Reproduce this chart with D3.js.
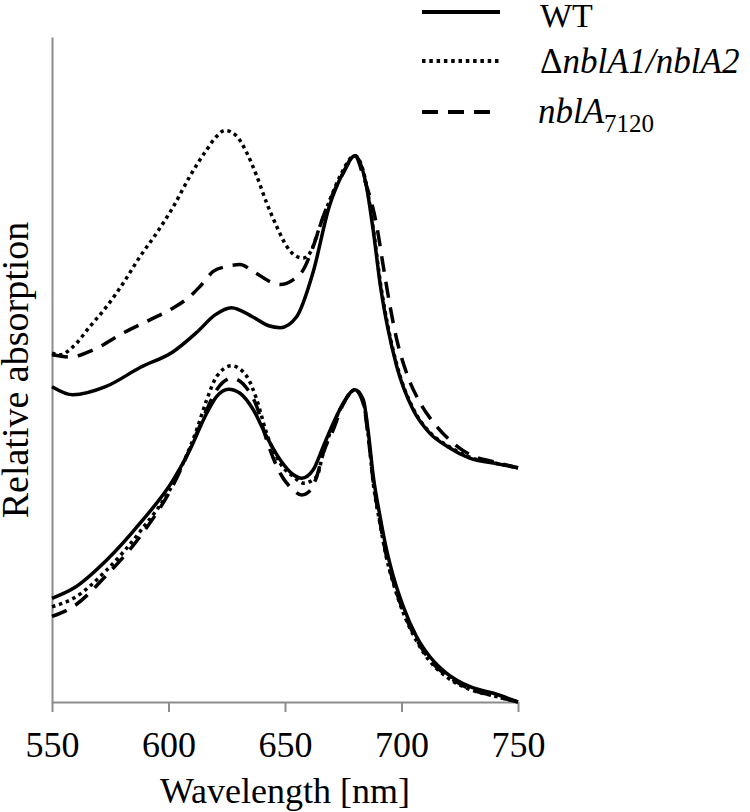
<!DOCTYPE html>
<html>
<head>
<meta charset="utf-8">
<script src="https://cdn.jsdelivr.net/npm/d3@7"></script>
</head>
<body style="margin:0">
<script>
// spectra normalised to the 680 nm peak; the upper set is shifted up by upperOffset
var upperOffset = 0.75;

var upperWT = [[550,0.26],[559,0.234],[573,0.26],[588,0.322],[602,0.372],[612,0.433],[620,0.49],[627,0.513],[636,0.484],[643,0.455],[648,0.449],[655,0.484],[662,0.625],[669,0.837],[675,0.946],[680,1.0],[685,0.90],[688,0.753],[691,0.58],[694,0.452],[698,0.324],[705,0.186],[712,0.112],[720,0.067],[729,0.032],[741,0.013],[750,0]];
var upperDelta = [[550,0.367],[553.4,0.362],[559.2,0.389],[566.3,0.453],[573.5,0.517],[580.6,0.592],[587.8,0.677],[594.9,0.752],[602.1,0.837],[609.2,0.934],[616.4,1.019],[620.7,1.062],[624.2,1.081],[629.3,1.062],[633.6,1.009],[637.9,0.934],[642.1,0.849],[646.4,0.774],[650.7,0.71],[655,0.677],[657.9,0.672],[660.7,0.688],[665,0.774],[669.3,0.859],[673.6,0.934],[680,1.0],[685,0.905],[688,0.76],[691,0.59],[694,0.46],[698,0.33],[705,0.19],[712,0.115],[720,0.07],[729,0.035],[741,0.014],[750,0]];
var upper7120 = [[550,0.362],[557.7,0.355],[567.7,0.378],[580.6,0.432],[592,0.474],[602,0.512],[609.2,0.549],[613.5,0.581],[619.2,0.629],[625,0.645],[630.7,0.651],[636.4,0.629],[645,0.592],[647.9,0.587],[653.6,0.603],[657.9,0.635],[662.1,0.709],[666.4,0.805],[670.7,0.88],[675,0.944],[680,1.0],[683.6,0.934],[689.4,0.774],[692.2,0.645],[695.1,0.517],[698,0.41],[702.2,0.303],[708,0.208],[715.2,0.132],[722.2,0.079],[729.4,0.042],[739.4,0.02],[750,0]];

var lowerWT = [[550,0.332],[559.2,0.364],[573.5,0.455],[587.8,0.573],[602.1,0.712],[609.2,0.808],[616.4,0.925],[620.7,0.979],[625.7,1.002],[630.7,0.989],[636.4,0.936],[642.1,0.85],[647.9,0.776],[653.6,0.728],[657.2,0.717],[662.1,0.744],[666.4,0.818],[670.7,0.893],[675,0.957],[680,1.0],[683.6,0.968],[685.8,0.861],[687.9,0.722],[690.8,0.594],[693.6,0.487],[696.5,0.402],[700.8,0.305],[706.5,0.209],[712.2,0.145],[719.4,0.092],[729.4,0.049],[739.4,0.028],[750,0]];
var lowerDelta = [[550,0.305],[559.2,0.332],[573.5,0.423],[587.8,0.546],[602.1,0.701],[612.1,0.872],[616.4,0.968],[620.7,1.043],[627.1,1.077],[633.6,1.043],[637.9,0.968],[642.1,0.861],[647.9,0.765],[653.6,0.722],[657.9,0.701],[663.6,0.722],[666.4,0.797],[670.7,0.888],[675,0.955],[680,1.0],[683.6,0.96],[685.8,0.85],[687.9,0.70],[690.8,0.57],[693.6,0.46],[696.5,0.38],[700.8,0.285],[706.5,0.195],[712.2,0.13],[719.4,0.08],[729.4,0.04],[739.4,0.02],[750,0]];
var lower7120 = [[550,0.274],[559.2,0.306],[573.5,0.407],[587.8,0.53],[602.1,0.696],[612.1,0.861],[616.4,0.936],[620.7,1.0],[627.1,1.037],[633.6,1.005],[637.9,0.946],[642.1,0.84],[647.9,0.733],[653.6,0.679],[657.2,0.663],[661,0.679],[663.6,0.722],[666.4,0.797],[670.7,0.872],[675,0.955],[680,1.0],[683.6,0.955],[685.8,0.845],[687.9,0.705],[690.8,0.575],[693.6,0.465],[696.5,0.385],[700.8,0.29],[706.5,0.2],[712.2,0.135],[719.4,0.085],[729.4,0.042],[739.4,0.02],[750,0]];

var xTicks = [550, 600, 650, 700, 750];

var width = 750, height = 812;
var margins = { top: 37, left: 52, right: 232, bottom: 110 };
var serif = "'Liberation Serif', 'Times New Roman', serif";

var svg = d3.select("body").append("svg")
  .attr("width", width)
  .attr("height", height)
  .style("font-family", serif, "important");

var x = d3.scaleLinear().domain([550, 750]).range([margins.left, width - margins.right]);
var y = d3.scaleLinear().domain([0, 2.13]).range([height - margins.bottom, margins.top]);

var axisColor = "#8c8c8c";

// x axis
var xAxis = svg.append("g")
  .attr("transform", "translate(0," + y(0) + ")")
  .call(d3.axisBottom(x).tickValues(xTicks).tickSize(10).tickSizeOuter(0).tickPadding(19).tickFormat(d3.format("d")));
xAxis.attr("font-family", null).attr("font-size", null);
xAxis.select(".domain").attr("stroke", axisColor).attr("stroke-width", 2);
xAxis.selectAll(".tick line").attr("stroke", axisColor).attr("stroke-width", 2);
xAxis.selectAll(".tick text")
  .style("font-family", serif, "important")
  .style("font-size", "36px")
  .attr("fill", "#000");

// y axis, no ticks
var yAxis = svg.append("g")
  .attr("transform", "translate(" + x(550) + ",0)")
  .call(d3.axisLeft(y).tickValues([]).tickSizeOuter(0));
yAxis.attr("font-family", null);
yAxis.select(".domain").attr("stroke", axisColor).attr("stroke-width", 2);

svg.append("text")
  .attr("x", (x(550) + x(750)) / 2)
  .attr("y", 803)
  .attr("text-anchor", "middle")
  .style("font-family", serif, "important")
  .style("font-size", "36px")
  .text("Wavelength [nm]");

svg.append("text")
  .attr("transform", "translate(28,370) rotate(-90)")
  .attr("text-anchor", "middle")
  .style("font-family", serif, "important")
  .style("font-size", "38px")
  .text("Relative absorption");

var styles = {
  wt: { dash: null },
  delta: { dash: "3.5,3.8" },
  n7120: { dash: "16,10" }
};

var series = [
  { data: upperWT, off: upperOffset, s: styles.wt },
  { data: upperDelta, off: upperOffset, s: styles.delta },
  { data: upper7120, off: upperOffset, s: styles.n7120 },
  { data: lowerWT, off: 0, s: styles.wt },
  { data: lowerDelta, off: 0, s: styles.delta },
  { data: lower7120, off: 0, s: styles.n7120 }
];

series.forEach(function (d) {
  var line = d3.line()
    .x(function (p) { return x(p[0]); })
    .y(function (p) { return y(p[1] + d.off); })
    .curve(d3.curveMonotoneX);
  svg.append("path")
    .datum(d.data)
    .attr("fill", "none")
    .attr("stroke", "#000")
    .attr("stroke-width", 3.5)
    .attr("stroke-dasharray", d.s.dash)
    .attr("d", line);
});

// legend
var legend = svg.append("g");
var legendRows = [
  { y: 12, s: styles.wt },
  { y: 61, s: styles.delta },
  { y: 112, s: styles.n7120 }
];
legendRows.forEach(function (r) {
  legend.append("line")
    .attr("x1", 422).attr("x2", 500)
    .attr("y1", r.y).attr("y2", r.y)
    .attr("stroke", "#000")
    .attr("stroke-width", 4)
    .attr("stroke-dasharray", r.s.dash);
});

legend.append("text").attr("x", 540).attr("y", 27)
  .style("font-family", serif, "important").style("font-size", "34px").text("WT");

var t2 = legend.append("text").attr("x", 540).attr("y", 73)
  .style("font-family", serif, "important").style("font-size", "35px");
t2.append("tspan").text("Δ");
t2.append("tspan").style("font-style", "italic").text("nblA1/nblA2");

var t3 = legend.append("text").attr("x", 538).attr("y", 123)
  .style("font-family", serif, "important").style("font-size", "35px").style("font-style", "italic");
t3.append("tspan").text("nblA");
t3.append("tspan").attr("dy", 9).style("font-size", "25px").style("font-style", "normal").text("7120");
</script>
</body>
</html>
